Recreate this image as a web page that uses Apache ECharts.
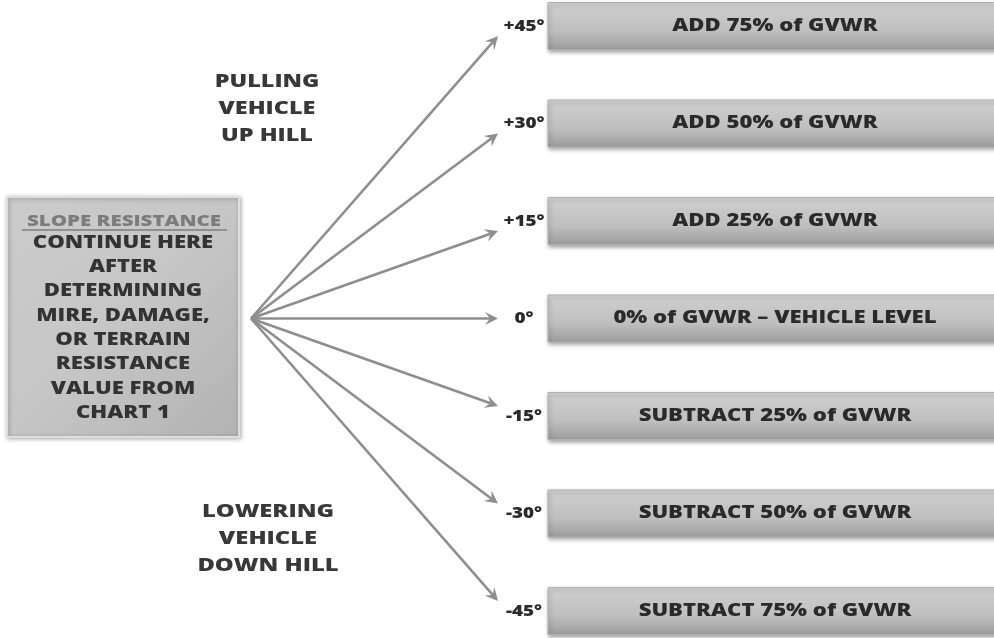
<!DOCTYPE html>
<html><head><meta charset="utf-8">
<script src="https://cdn.jsdelivr.net/npm/echarts@6/dist/echarts.min.js"></script>
<style>html,body{margin:0;padding:0;background:#fff}#c{width:994px;height:638px}</style>
</head><body><div id="c"></div>
<script>
// ---- data ----
const slopeAngles = [45, 30, 15, 0, -15, -30, -45];
const angleLabels = ['+45°', '+30°', '+15°', '0°', '-15°', '-30°', '-45°'];
const actionLabels = [
  'ADD 75% of GVWR',
  'ADD 50% of GVWR',
  'ADD 25% of GVWR',
  '0% of GVWR \u2013 VEHICLE LEVEL',
  'SUBTRACT 25% of GVWR',
  'SUBTRACT 50% of GVWR',
  'SUBTRACT 75% of GVWR'
];
const sourceTitle = 'SLOPE RESISTANCE';
const sourceLines = ['CONTINUE HERE', 'AFTER', 'DETERMINING', 'MIRE, DAMAGE,', 'OR TERRAIN', 'RESISTANCE', 'VALUE FROM', 'CHART 1'];
const upLabel = ['PULLING', 'VEHICLE', 'UP HILL'];
const downLabel = ['LOWERING', 'VEHICLE', 'DOWN HILL'];

// ---- layout ----
const FONT = '"Open Sans", "DejaVu Sans", sans-serif';
const ORIGIN_X = 251, TIP_X = 498, BOX_X = 548, BOX_H = 47, TEXT_X = 775, LABEL_X = 524;

const chart = echarts.init(document.getElementById('c'));

function arrowItem(params, api) {
  const a = api.value(1);
  const o = api.coord([ORIGIN_X, 0]);
  const r = api.coord([TIP_X, a]);
  const t = [r[0], r[1] + Math.sign(a) * 10];
  const dx = t[0] - o[0], dy = t[1] - o[1];
  const len = Math.sqrt(dx * dx + dy * dy);
  const ux = dx / len, uy = dy / len, nx = -uy, ny = ux;
  const hl = 13, hw = 6.5, notch = 8;
  return {
    type: 'group',
    children: [
      { type: 'line', shape: { x1: o[0], y1: o[1], x2: t[0] - ux * notch, y2: t[1] - uy * notch },
        style: { stroke: '#8e8e8e', lineWidth: 2.6 } },
      { type: 'polygon', shape: { points: [
          [t[0], t[1]],
          [t[0] - ux * hl + nx * hw, t[1] - uy * hl + ny * hw],
          [t[0] - ux * notch, t[1] - uy * notch],
          [t[0] - ux * hl - nx * hw, t[1] - uy * hl - ny * hw]
        ] }, style: { fill: '#8e8e8e' } }
    ]
  };
}

function boxItem(params, api) {
  const a = api.value(1);
  const idx = api.value(0);
  const c = api.coord([BOX_X, a]);
  const tx = api.coord([TEXT_X, a])[0];
  const lx = api.coord([LABEL_X, a])[0];
  return {
    type: 'group',
    children: [
      { type: 'rect', shape: { x: c[0], y: c[1] - BOX_H / 2, width: 460, height: BOX_H },
        style: {
          fill: new echarts.graphic.LinearGradient(0, 0, 0, 1, [
            { offset: 0, color: '#dadada' },
            { offset: 0.1, color: '#cdcdcd' },
            { offset: 0.6, color: '#bfbfbf' },
            { offset: 1, color: '#9c9c9c' }
          ]),
          stroke: '#b0b0b0', lineWidth: 1,
          shadowBlur: 4, shadowOffsetX: 1, shadowOffsetY: 2, shadowColor: 'rgba(0,0,0,0.35)'
        } },
      { type: 'text', x: tx, y: c[1], scaleX: 1.3,
        style: { text: actionLabels[idx], x: 0, y: 0, align: 'center', verticalAlign: 'middle',
          font: '800 17px ' + FONT, fill: '#2a2a2a' } },
      { type: 'text', x: lx, y: c[1], scaleX: 1.18,
        style: { text: angleLabels[idx], x: 0, y: 0, align: 'center', verticalAlign: 'middle',
          font: '800 16px ' + FONT, fill: '#2a2a2a' } }
    ]
  };
}

const graphics = [];
graphics.push({ type: 'rect', shape: { x: 7, y: 197, width: 232, height: 240 },
  style: {
    fill: new echarts.graphic.LinearGradient(0, 0, 1, 1, [
      { offset: 0, color: '#cbcbcb' },
      { offset: 0.5, color: '#c6c6c6' },
      { offset: 1, color: '#b2b2b2' }
    ]),
    stroke: '#dedede', lineWidth: 2,
    shadowBlur: 4, shadowOffsetX: 1, shadowOffsetY: 1, shadowColor: 'rgba(0,0,0,0.3)'
  } });
graphics.push({ type: 'text', x: 124, y: 221, scaleX: 1.28,
  style: { text: sourceTitle, x: 0, y: 0, align: 'center', verticalAlign: 'middle',
    font: '800 16px ' + FONT, fill: '#7c7c7c' } });
graphics.push({ type: 'line', shape: { x1: 22, y1: 230, x2: 227, y2: 230 },
  style: { stroke: '#7c7c7c', lineWidth: 1.5 } });
sourceLines.forEach((s, i) => {
  graphics.push({ type: 'text', x: 123, y: 243 + i * 24.3, scaleX: 1.3,
    style: { text: s, x: 0, y: 0, align: 'center', verticalAlign: 'middle',
      font: '800 17px ' + FONT, fill: '#333333' } });
});
upLabel.forEach((s, i) => {
  graphics.push({ type: 'text', x: 267, y: 81.5 + i * 27, scaleX: 1.3,
    style: { text: s, x: 0, y: 0, align: 'center', verticalAlign: 'middle',
      font: '800 18px ' + FONT, fill: '#383838' } });
});
downLabel.forEach((s, i) => {
  graphics.push({ type: 'text', x: 268, y: 512 + i * 27, scaleX: 1.32,
    style: { text: s, x: 0, y: 0, align: 'center', verticalAlign: 'middle',
      font: '800 18px ' + FONT, fill: '#383838' } });
});

chart.setOption({
  backgroundColor: '#ffffff',
  animation: false,
  grid: { left: 0, right: 0, top: 26, bottom: 27 },
  xAxis: { type: 'value', min: 0, max: 994, show: false },
  yAxis: { type: 'value', min: -45, max: 45, interval: 15, show: false },
  graphic: graphics,
  series: [
    { type: 'custom', name: 'arrows', renderItem: arrowItem, clip: false,
      data: slopeAngles.map((a, i) => [i, a]) },
    { type: 'custom', name: 'boxes', renderItem: boxItem, clip: false,
      data: slopeAngles.map((a, i) => [i, a]) }
  ]
});
</script>
</body></html>
